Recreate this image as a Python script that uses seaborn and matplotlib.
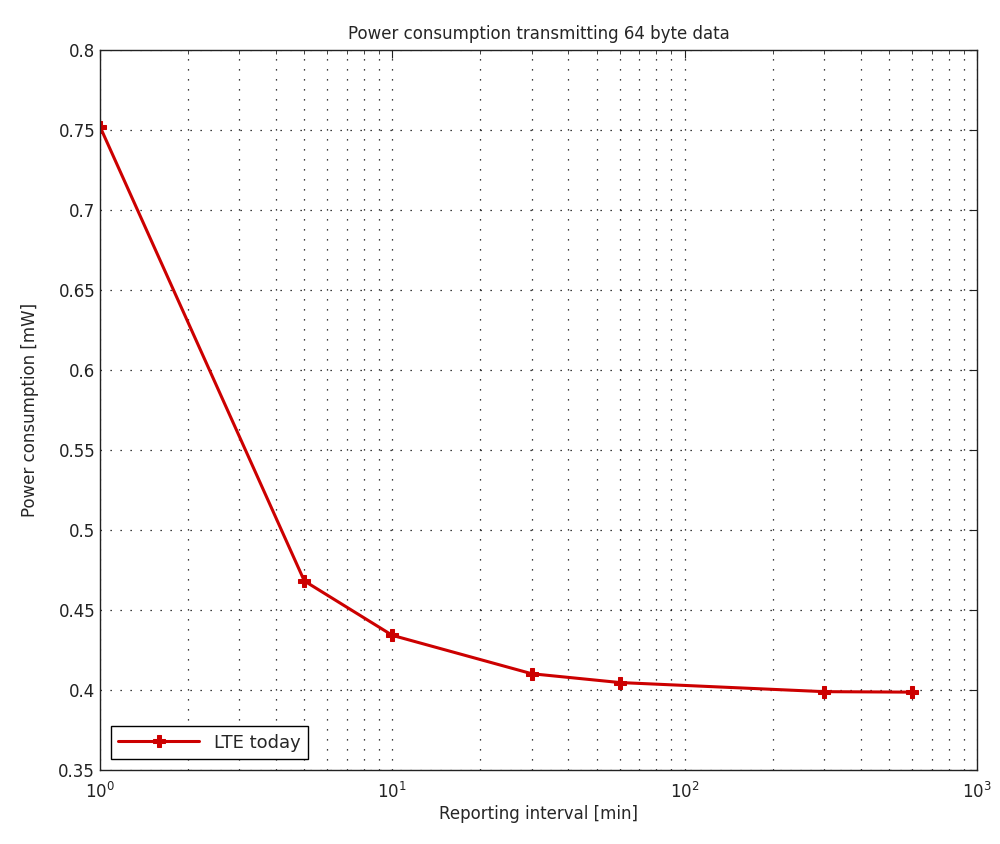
#!/usr/bin/env python3
"""Power consumption vs reporting interval (log x), MATLAB-style look."""
import pandas as pd
import matplotlib
matplotlib.use("Agg")
import matplotlib.pyplot as plt
import seaborn as sns
from matplotlib.ticker import LogLocator, FixedLocator, NullFormatter

# Data
reporting_interval = [1, 5, 10, 30, 60, 300, 600]
power_mw = [0.752, 0.468, 0.434, 0.410, 0.4045, 0.3988, 0.3985]
series_label = "LTE today"
y_ticks = [0.35, 0.4, 0.45, 0.5, 0.55, 0.6, 0.65, 0.7, 0.75, 0.8]
y_tick_labels = ["0.35", "0.4", "0.45", "0.5", "0.55", "0.6", "0.65", "0.7", "0.75", "0.8"]


def main():
    df = pd.DataFrame({"interval": reporting_interval, "power": power_mw,
                       "series": series_label})

    sns.set_style("white")
    plt.rcParams["font.family"] = ["DejaVu Sans"]

    fig = plt.figure(figsize=(10, 8.44), dpi=100)
    ax = fig.add_axes([0.100, 0.088, 0.877, 0.853])

    sns.lineplot(data=df, x="interval", y="power", hue="series",
                 palette=["#cc0000"], marker="P", markersize=9,
                 markeredgecolor="#cc0000", linewidth=2.2, ax=ax)

    ax.set_xscale("log")
    ax.set_xlim(1, 1000)
    ax.set_ylim(0.35, 0.8)

    ax.xaxis.set_major_locator(LogLocator(base=10))
    ax.xaxis.set_minor_locator(LogLocator(base=10, subs=range(2, 10)))
    ax.xaxis.set_minor_formatter(NullFormatter())
    ax.yaxis.set_major_locator(FixedLocator(y_ticks))
    ax.set_yticklabels(y_tick_labels)

    # dotted grid like MATLAB
    dots = (0, (1, 7))
    ax.grid(True, which="major", axis="both", color="black",
            linestyle=dots, linewidth=0.9)
    ax.grid(True, which="minor", axis="x", color="black",
            linestyle=dots, linewidth=0.9)

    ax.tick_params(which="both", direction="in", top=True, right=True,
                   labelsize=12, colors="#222222")
    ax.tick_params(axis="x", which="major", pad=9)
    ax.tick_params(which="major", length=6)
    ax.tick_params(which="minor", length=3)
    for s in ax.spines.values():
        s.set_color("#222222")
        s.set_linewidth(1.0)

    ax.set_title("Power consumption transmitting 64 byte data", fontsize=12, pad=8)
    ax.set_xlabel("Reporting interval [min]", fontsize=12, labelpad=2)
    ax.set_ylabel("Power consumption [mW]", fontsize=12, labelpad=14)

    leg = ax.legend(loc="lower left", fontsize=13, fancybox=False,
                    edgecolor="black", framealpha=1, borderaxespad=0.6,
                    handlelength=4.5)
    leg.get_frame().set_linewidth(1.0)

    fig.savefig("out.png", dpi=100)


if __name__ == '__main__':
    main()
